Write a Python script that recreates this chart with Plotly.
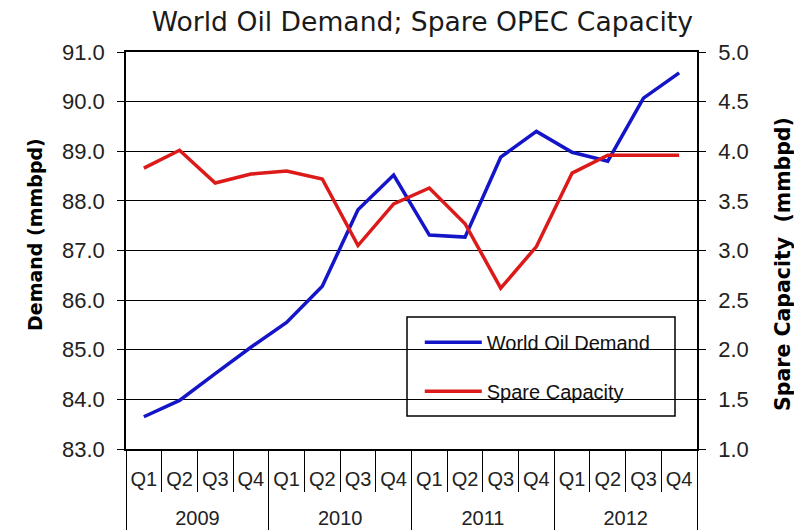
import plotly.graph_objects as go

years = ["2009"] * 4 + ["2010"] * 4 + ["2011"] * 4 + ["2012"] * 4
quarters = ["Q1", "Q2", "Q3", "Q4"] * 4

demand = [83.65, 83.98, 84.52, 85.05, 85.55, 86.28, 87.82, 88.52,
          87.31, 87.27, 88.88, 89.40, 88.98, 88.80, 90.07, 90.58]
spare = [3.83, 4.01, 3.68, 3.77, 3.80, 3.72, 3.05, 3.47,
         3.63, 3.27, 2.62, 3.04, 3.78, 3.96, 3.96, 3.96]

title_text = "World Oil Demand; Spare OPEC Capacity"
left_title = "Demand (mmbpd)"
right_title = "Spare Capacity  (mmbpd)"

BLUE = "#1414c8"
RED = "#dc1a1a"

# year row is pushed one line lower (as in the reference's two-row axis)
year_rows = ["<br>" + y for y in years]

fig = go.Figure()
fig.add_trace(go.Scatter(
    x=[year_rows, quarters], y=demand, name="World Oil Demand", mode="lines",
    line=dict(color=BLUE, width=3.5), legendgroup="a", yaxis="y"))
fig.add_trace(go.Scatter(
    x=[year_rows, quarters], y=spare, name="Spare Capacity", mode="lines",
    line=dict(color=RED, width=3.5), legendgroup="b", yaxis="y2"))

tickfont = dict(family="Liberation Sans, Arial, sans-serif", size=22, color="#222")

fig.update_layout(
    width=794, height=530,
    margin=dict(l=126, r=97, t=52, b=81, autoexpand=False),
    paper_bgcolor="white", plot_bgcolor="white",
    title=dict(text=title_text, x=0.532, xanchor="center", y=0.96, yanchor="middle",
               font=dict(family="DejaVu Sans, Verdana, sans-serif", size=26.6, color="#1a1a1a")),
    xaxis=dict(type="multicategory", range=[-0.5, 15.5], tickson="boundaries",
               automargin=False, tickangle=0,
               showline=True, linecolor="black", linewidth=1.5,
               mirror=True, showgrid=False, ticks="outside", ticklen=41, tickcolor="black",
               tickwidth=1.3, ticklabelstandoff=11, showdividers=True,
               dividercolor="black", dividerwidth=1.3,
               tickfont=dict(family="Liberation Sans, Arial, sans-serif", size=20, color="#222")),
    yaxis=dict(range=[83, 91], dtick=1, tickformat=".1f", showline=True, automargin=False,
               linecolor="black", linewidth=1.5, showgrid=True, gridcolor="black",
               gridwidth=1, ticks="outside", ticklen=7, tickcolor="black",
               ticklabelstandoff=8, tickfont=tickfont, zeroline=False),
    yaxis2=dict(range=[1, 5], dtick=0.5, tickformat=".1f", overlaying="y", side="right",
                automargin=False,
                showline=True, linecolor="black", linewidth=1.5, showgrid=False,
                ticks="outside", ticklen=7, tickcolor="black", ticklabelstandoff=8,
                tickfont=tickfont, zeroline=False),
    showlegend=True,
    legend=dict(x=0.5145, y=0.318, xanchor="left", yanchor="top",
                bgcolor="rgba(0,0,0,0)", borderwidth=0, traceorder="grouped",
                tracegroupgap=20, itemwidth=57,
                font=dict(family="Liberation Sans, Arial, sans-serif", size=20, color="#111")),
    shapes=[dict(type="rect", xref="paper", yref="paper",
                 x0=(407 - 126) / 571, x1=(675 - 126) / 571,
                 y0=(449 - 416) / 397, y1=(449 - 317) / 397,
                 fillcolor="white", line=dict(color="black", width=1.5), layer="between")],
    annotations=[
        dict(text=left_title, xref="paper", yref="paper", x=(35 - 126) / 571,
             y=(449 - 235) / 397, textangle=-90, showarrow=False,
             xanchor="center", yanchor="middle",
             font=dict(family="DejaVu Sans, Verdana, sans-serif", size=19, color="black",
                       weight="bold")),
        dict(text=right_title, xref="paper", yref="paper", x=(783 - 126) / 571,
             y=(449 - 264) / 397, textangle=-90, showarrow=False,
             xanchor="center", yanchor="middle",
             font=dict(family="DejaVu Sans, Verdana, sans-serif", size=20.5, color="black",
                       weight="bold")),
    ],
)

fig.write_html("out.html")
